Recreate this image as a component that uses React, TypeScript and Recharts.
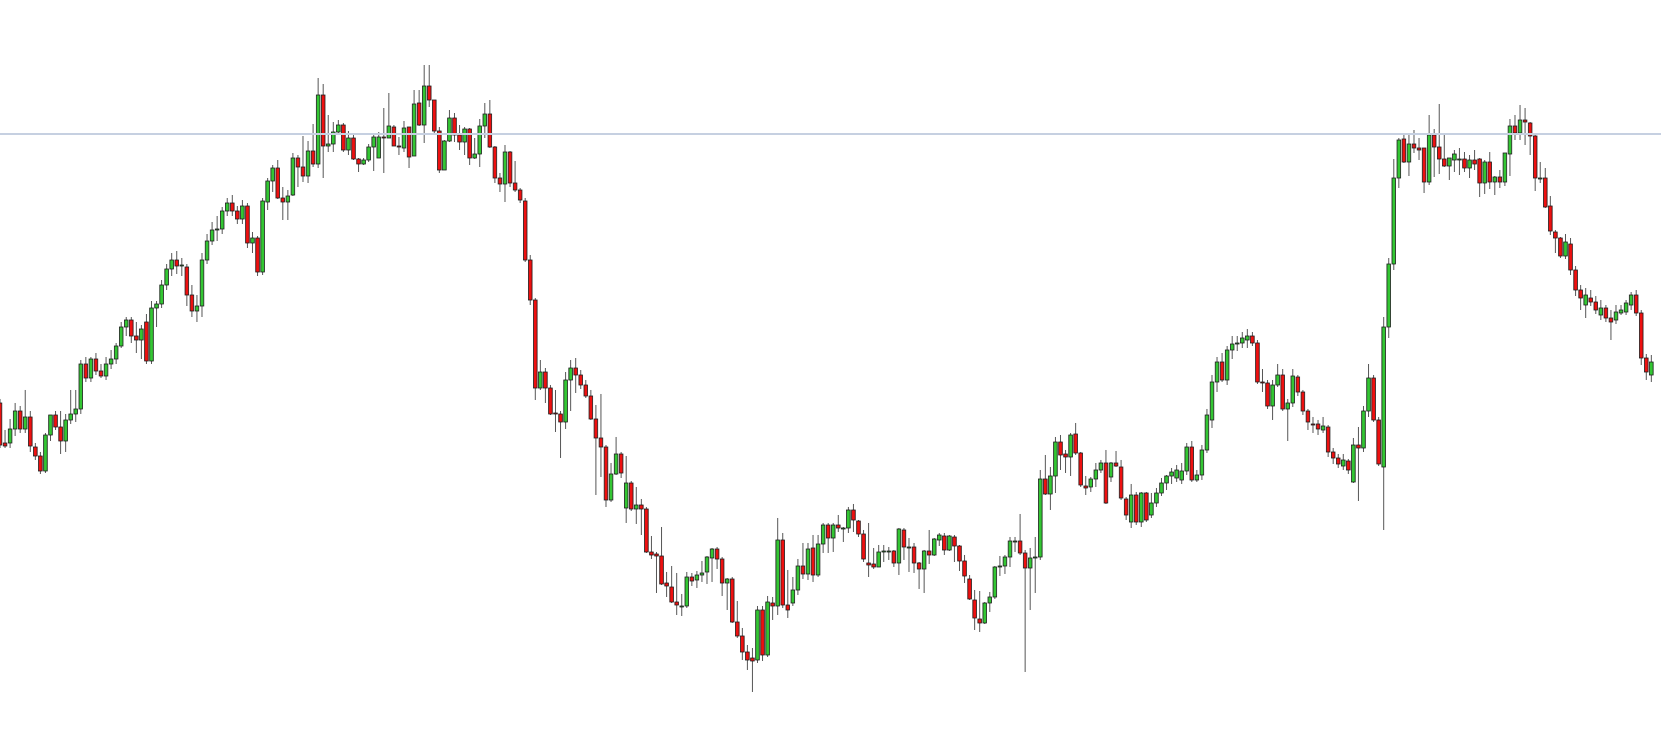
import React from 'react'
import { ComposedChart, Bar, XAxis, YAxis, ReferenceLine } from 'recharts'

// price levels, one entry per candle, left to right
const opens = [
  397, 357, 357, 371, 389, 371, 383, 353, 344, 329, 365, 385, 373, 359, 380, 386, 391, 436, 422, 441,
  429, 424, 436, 441, 454, 473, 480, 464, 460, 478, 439, 492, 496, 515, 531, 540, 534, 533, 505, 489,
  494, 540, 559, 570, 571, 589, 597, 589, 581, 594, 557, 562, 528, 598, 619, 632, 602, 598, 605, 642,
  633, 624, 649, 636, 705, 654, 656, 668, 675, 650, 662, 641, 636, 640, 653, 642, 663, 662, 673, 654,
  652, 673, 644, 697, 675, 714, 700, 669, 630, 659, 682, 665, 658, 671, 642, 646, 674, 686, 653, 622,
  616, 648, 617, 610, 599, 540, 500, 412, 428, 412, 387, 386, 378, 420, 432, 425, 415, 404, 381, 362,
  353, 300, 326, 346, 292, 317, 291, 295, 291, 248, 246, 244, 217, 213, 198, 194, 194, 223, 220, 225,
  228, 242, 251, 241, 217, 221, 178, 164, 148, 142, 140, 190, 145, 197, 194, 260, 195, 197, 210, 234,
  226, 252, 225, 256, 275, 262, 275, 272, 272, 290, 279, 266, 237, 236, 233, 249, 249, 249, 237, 270,
  252, 253, 237, 231, 249, 245, 260, 264, 250, 263, 254, 239, 221, 200, 181, 177, 197, 203, 234, 234,
  243, 258, 259, 247, 232, 242, 243, 321, 306, 324, 358, 346, 343, 366, 347, 314, 313, 321, 330, 337,
  323, 337, 333, 301, 278, 305, 278, 307, 285, 297, 307, 317, 324, 322, 320, 329, 353, 320, 325, 350,
  380, 418, 438, 420, 450, 456, 457, 460, 464, 457, 418, 417, 394, 415, 425, 391, 397, 423, 408, 389,
  376, 376, 370, 373, 348, 342, 334, 339, 318, 355, 352, 389, 422, 380, 333, 473, 536, 622, 661, 638,
  656, 652, 652, 618, 665, 653, 641, 634, 640, 641, 641, 632, 640, 641, 617, 638, 618, 623, 618, 646,
  674, 667, 680, 677, 664, 622, 622, 594, 568, 562, 544, 556, 530, 510, 495, 502, 498, 485, 492, 482,
  480, 487, 488, 495, 505, 487, 442, 425,
]

const highs = [
  401, 370, 381, 397, 394, 410, 389, 357, 348, 367, 385, 389, 389, 386, 410, 410, 440, 443, 443, 447,
  436, 443, 450, 457, 478, 483, 483, 478, 475, 486, 499, 499, 520, 536, 547, 549, 542, 536, 515, 505,
  547, 566, 578, 584, 593, 602, 605, 594, 600, 597, 568, 564, 602, 622, 635, 640, 613, 610, 647, 645,
  664, 659, 676, 722, 716, 685, 678, 680, 677, 669, 667, 642, 642, 656, 665, 668, 692, 707, 675, 663,
  679, 673, 710, 710, 735, 735, 700, 673, 660, 690, 687, 675, 673, 672, 662, 681, 697, 700, 654, 627,
  655, 649, 639, 612, 602, 545, 502, 440, 432, 415, 410, 389, 428, 440, 442, 430, 420, 410, 395, 406,
  355, 337, 363, 348, 344, 319, 313, 301, 293, 264, 248, 273, 228, 234, 227, 206, 228, 227, 229, 239,
  244, 252, 253, 243, 222, 223, 199, 172, 155, 152, 194, 194, 204, 203, 282, 267, 230, 223, 241, 257,
  257, 265, 265, 277, 277, 277, 285, 273, 293, 296, 280, 270, 277, 252, 255, 255, 253, 250, 272, 272,
  262, 257, 238, 250, 270, 262, 267, 267, 265, 265, 255, 245, 225, 210, 209, 198, 208, 234, 244, 245,
  263, 263, 286, 250, 252, 263, 330, 345, 333, 363, 365, 350, 367, 377, 348, 324, 323, 337, 340, 350,
  338, 349, 340, 303, 316, 308, 308, 308, 307, 312, 322, 325, 332, 335, 337, 357, 359, 330, 355, 391,
  425, 443, 447, 454, 464, 464, 468, 471, 468, 460, 431, 420, 420, 436, 431, 401, 431, 425, 410, 391,
  383, 380, 383, 375, 352, 346, 346, 341, 362, 373, 394, 436, 425, 383, 483, 542, 641, 662, 667, 667,
  670, 662, 652, 685, 671, 696, 665, 642, 650, 652, 648, 645, 650, 642, 640, 648, 624, 630, 647, 681,
  685, 695, 692, 678, 667, 638, 632, 604, 570, 563, 566, 562, 534, 515, 512, 510, 504, 500, 495, 490,
  495, 495, 500, 508, 510, 490, 446, 445,
]

const lows = [
  352, 352, 352, 364, 367, 367, 348, 340, 326, 327, 359, 370, 346, 348, 376, 378, 386, 418, 418, 425,
  422, 420, 431, 436, 452, 464, 457, 447, 441, 436, 436, 473, 492, 510, 524, 526, 524, 494, 483, 478,
  483, 536, 555, 559, 566, 584, 584, 576, 576, 552, 547, 524, 525, 590, 608, 601, 580, 580, 604, 613,
  618, 617, 633, 632, 622, 648, 648, 665, 648, 645, 640, 628, 635, 638, 629, 642, 627, 662, 654, 645,
  648, 632, 644, 674, 657, 693, 666, 627, 630, 658, 658, 650, 645, 635, 641, 633, 662, 652, 617, 608,
  598, 613, 608, 597, 538, 495, 400, 410, 397, 385, 368, 342, 371, 389, 407, 411, 402, 380, 305, 323,
  293, 298, 325, 322, 277, 289, 276, 265, 247, 241, 207, 215, 203, 197, 185, 184, 192, 214, 212, 218,
  216, 218, 231, 204, 190, 177, 162, 140, 130, 108, 137, 139, 143, 180, 185, 192, 182, 194, 205, 221,
  220, 218, 223, 247, 247, 248, 268, 258, 267, 268, 263, 238, 223, 231, 233, 238, 240, 233, 225, 240,
  228, 227, 211, 207, 236, 244, 254, 245, 249, 238, 229, 217, 200, 170, 168, 176, 188, 201, 224, 226,
  233, 248, 245, 128, 190, 207, 240, 305, 290, 307, 330, 327, 324, 345, 313, 305, 308, 313, 327, 296,
  318, 333, 300, 280, 272, 275, 273, 278, 282, 293, 304, 310, 316, 318, 316, 325, 318, 318, 320, 347,
  372, 408, 418, 415, 441, 449, 452, 452, 454, 416, 408, 391, 380, 413, 389, 359, 393, 404, 385, 370,
  367, 365, 367, 343, 336, 332, 330, 326, 317, 299, 348, 383, 378, 334, 270, 462, 530, 612, 637, 624,
  647, 640, 607, 615, 623, 626, 633, 620, 628, 625, 628, 622, 630, 603, 606, 611, 605, 612, 614, 624,
  660, 660, 655, 645, 609, 617, 592, 565, 547, 542, 541, 525, 504, 490, 482, 494, 486, 480, 478, 460,
  476, 485, 485, 490, 484, 435, 420, 418,
]

const closes = [
  355, 354, 371, 389, 371, 383, 354, 344, 329, 365, 385, 373, 359, 380, 386, 391, 436, 422, 441, 429,
  424, 436, 441, 454, 473, 480, 464, 460, 471, 439, 492, 496, 515, 531, 540, 534, 535, 505, 489, 494,
  540, 559, 570, 571, 589, 597, 589, 581, 594, 557, 562, 528, 599, 619, 632, 602, 598, 604, 642, 633,
  624, 649, 636, 705, 654, 656, 668, 675, 650, 662, 641, 636, 640, 653, 663, 663, 662, 674, 654, 653,
  672, 643, 696, 675, 714, 700, 669, 630, 659, 682, 665, 658, 671, 642, 646, 674, 686, 653, 622, 616,
  648, 617, 610, 600, 540, 500, 412, 428, 412, 386, 386, 378, 420, 432, 425, 415, 404, 381, 362, 353,
  300, 326, 346, 327, 317, 291, 295, 291, 248, 245, 244, 216, 214, 198, 195, 194, 223, 219, 225, 227,
  243, 251, 241, 217, 221, 178, 164, 148, 140, 139, 190, 145, 198, 194, 260, 195, 190, 210, 234, 226,
  251, 225, 256, 275, 262, 275, 272, 272, 290, 280, 266, 241, 235, 233, 248, 249, 249, 237, 271, 253,
  253, 237, 231, 249, 245, 261, 265, 250, 264, 254, 239, 224, 201, 182, 177, 197, 203, 233, 234, 243,
  259, 259, 247, 232, 242, 243, 321, 306, 324, 358, 345, 343, 365, 347, 315, 312, 321, 330, 337, 297,
  337, 334, 302, 285, 305, 278, 307, 280, 297, 307, 317, 324, 328, 330, 329, 353, 320, 325, 350, 385,
  418, 438, 420, 450, 456, 457, 462, 464, 457, 418, 417, 394, 415, 425, 391, 397, 424, 408, 389, 378,
  375, 371, 374, 348, 342, 336, 340, 330, 355, 352, 389, 422, 380, 336, 473, 536, 622, 660, 638, 656,
  652, 650, 618, 665, 653, 641, 634, 642, 646, 641, 632, 640, 636, 617, 638, 618, 623, 618, 647, 674,
  667, 680, 678, 664, 622, 622, 593, 569, 562, 544, 558, 530, 510, 502, 505, 498, 490, 492, 482, 478,
  488, 490, 497, 505, 487, 442, 428, 438,
]

const resistance = 666

const data = opens.map((o, i) => ({
  idx: i,
  open: o,
  close: closes[i],
  high: Math.max(highs[i], o, closes[i]),
  low: Math.min(lows[i], o, closes[i]),
}))

const STEP = 5.05
const PAD_RIGHT = 10

const Candle = (props: any) => {
  const { x, y, width, height, payload } = props
  if (!payload) return null
  const { open, close, high, low } = payload
  const top = Math.min(y, y + height)
  const bottom = Math.max(y, y + height)
  const span = high - low || 1
  const toY = (v: number) => top + ((high - v) / span) * (bottom - top)
  const cx = x + width / 2
  const up = close >= open
  const bTop = toY(Math.max(open, close))
  const bBot = toY(Math.min(open, close))
  const bh = Math.max(1, bBot - bTop)
  return (
    <g>
      <line x1={cx} x2={cx} y1={top} y2={bottom} stroke="#555" strokeWidth={1} />
      <rect
        x={cx - 1.8}
        y={bTop}
        width={3.6}
        height={bh}
        fill={up ? '#33c633' : '#ee1010'}
        stroke="#1e1e1e"
        strokeWidth={0.8}
      />
    </g>
  )
}

export default function App() {
  const width = data.length * STEP + PAD_RIGHT
  return (
    <div style={{ position: 'absolute', left: -STEP / 2 - 0.3, top: 0, background: '#fff' }}>
      <ComposedChart
        width={width}
        height={752}
        data={data}
        margin={{ top: 0, right: 0, bottom: 0, left: 0 }}
      >
        <XAxis dataKey="idx" type="category" hide padding={{ left: 0, right: PAD_RIGHT }} />
        <YAxis type="number" domain={[48, 800]} hide allowDataOverflow />
        <ReferenceLine y={resistance} stroke="#c6d0e1" strokeWidth={2} />
        <Bar
          dataKey={(d: any) => [d.low, d.high]}
          barSize={4}
          shape={Candle}
          isAnimationActive={false}
        />
      </ComposedChart>
    </div>
  )
}
